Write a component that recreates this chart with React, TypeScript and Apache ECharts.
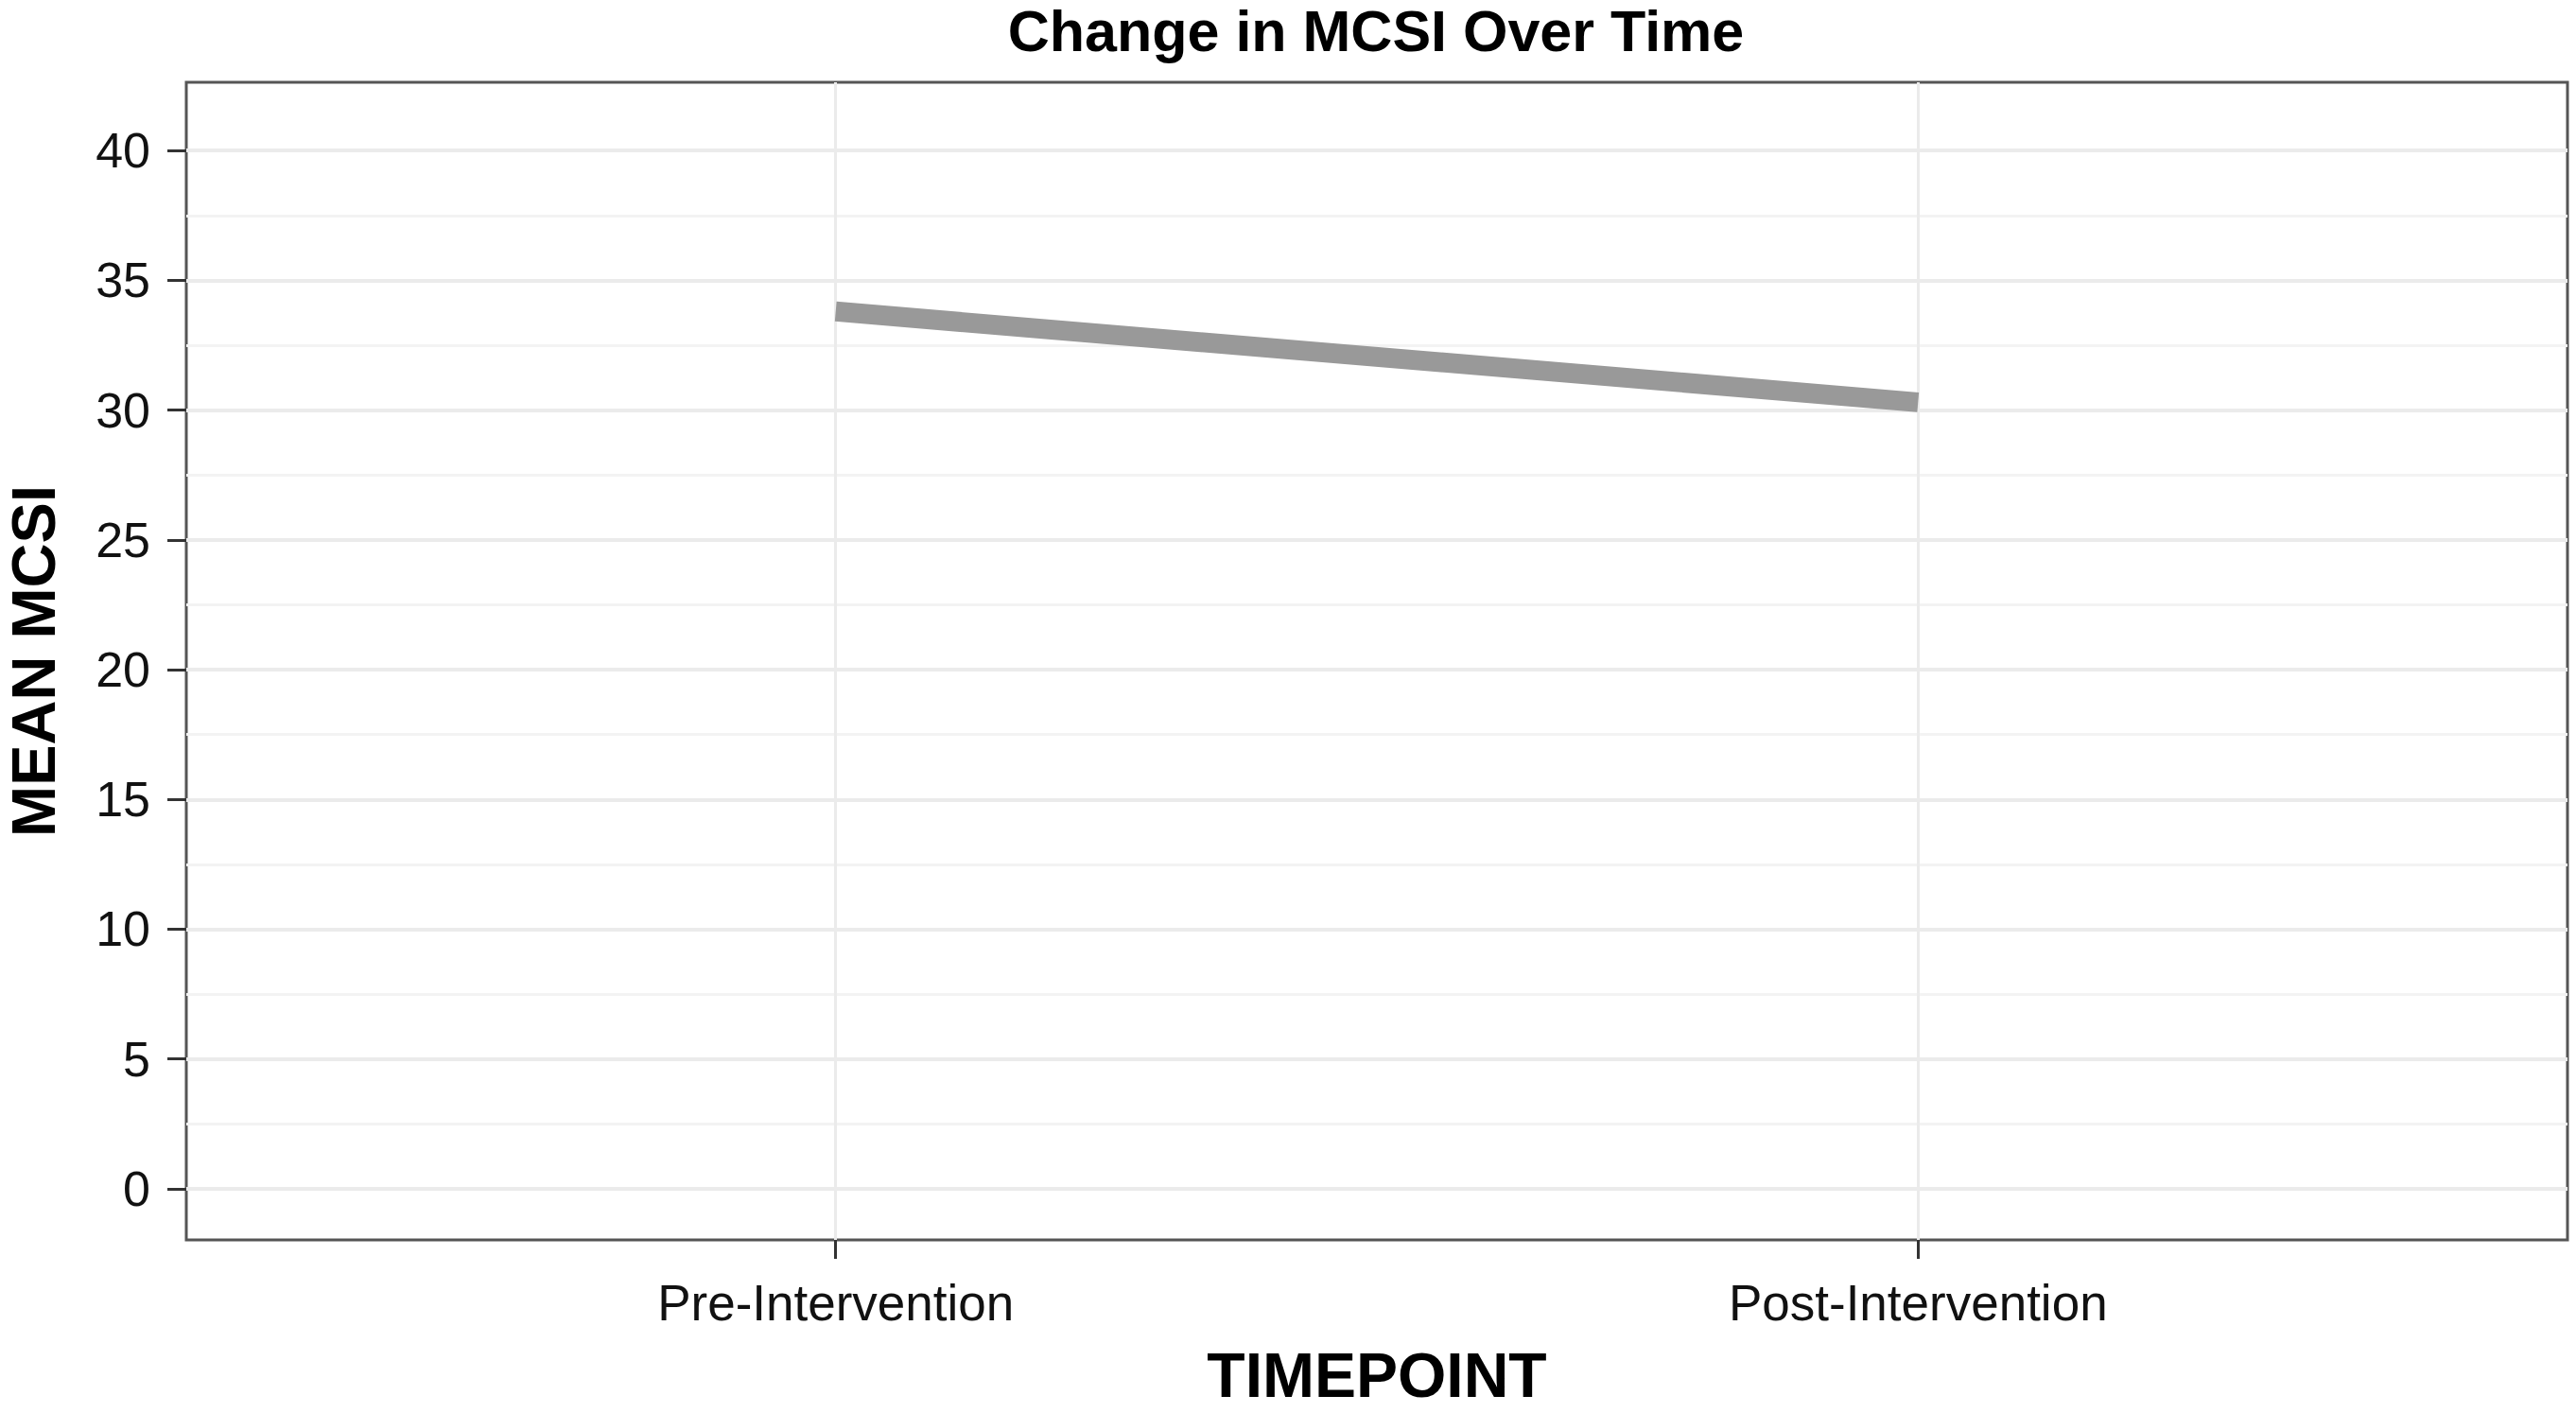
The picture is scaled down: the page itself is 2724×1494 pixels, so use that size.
import React, { useEffect, useRef } from "react";
import * as echarts from "echarts";

const categories = ["Pre-Intervention", "Post-Intervention"];
const categoryPositions = [1, 2];
const meanMcsi = [33.8, 30.3];
const yTicks = [0, 5, 10, 15, 20, 25, 30, 35, 40];
const yMinorLines = [2.5, 7.5, 12.5, 17.5, 22.5, 27.5, 32.5, 37.5];

const FONT = "'Liberation Sans', Arial, Helvetica, sans-serif";

export default function App() {
  const ref = useRef<HTMLDivElement>(null);
  useEffect(() => {
    if (!ref.current) return;
    const chart = echarts.init(ref.current, undefined, { renderer: "svg" });
    const seriesData = categoryPositions.map((x, i) => [x, meanMcsi[i]]);
    chart.setOption({
      animation: false,
      backgroundColor: "#ffffff",
      title: {
        text: "Change in MCSI Over Time",
        left: 1455,
        textAlign: "center",
        top: 2,
        padding: 0,
        textStyle: { fontFamily: FONT, fontWeight: "bold", fontSize: 61, color: "#000" },
      },
      grid: {
        left: 197,
        right: 9,
        top: 87,
        bottom: 183,
        show: true,
        borderColor: "#555555",
        borderWidth: 3,
        backgroundColor: "#ffffff",
        containLabel: false,
        outerBoundsMode: "none",
      },
      xAxis: {
        type: "value",
        min: 0.4,
        max: 2.6,
        name: "TIMEPOINT",
        nameLocation: "middle",
        nameGap: 110,
        nameTextStyle: { fontFamily: FONT, fontWeight: "bold", fontSize: 66, color: "#000" },
        axisLine: { show: false, onZero: false },
        axisTick: {
          show: true,
          customValues: categoryPositions,
          length: 20,
          lineStyle: { color: "#333", width: 3 },
        },
        axisLabel: {
          customValues: categoryPositions,
          margin: 40,
          fontFamily: FONT,
          fontSize: 53,
          color: "#111",
          formatter: (v: number) => {
            const idx = categoryPositions.indexOf(Math.round(v));
            return idx >= 0 ? categories[idx] : "";
          },
        },
        splitLine: { show: true, lineStyle: { color: "#ebebeb", width: 3 } },
      },
      yAxis: [
        {
          type: "value",
          min: -1.97,
          max: 42.63,
          name: "MEAN MCSI",
          nameLocation: "middle",
          nameGap: 129,
          nameRotate: 90,
          nameTextStyle: { fontFamily: FONT, fontWeight: "bold", fontSize: 65, color: "#000" },
          axisLine: { show: false, onZero: false },
          axisTick: {
            show: true,
            customValues: yTicks,
            length: 20,
            lineStyle: { color: "#333", width: 3 },
          },
          axisLabel: {
            customValues: yTicks,
            margin: 38,
            fontFamily: FONT,
            fontSize: 52,
            color: "#111",
          },
          splitLine: { show: true, lineStyle: { color: "#ebebeb", width: 4 } },
        },
        {
          type: "value",
          min: -1.97,
          max: 42.63,
          position: "left",
          axisLine: { show: false, onZero: false },
          axisTick: { show: false, customValues: yMinorLines },
          axisLabel: { show: false, customValues: yMinorLines },
          splitLine: { show: true, lineStyle: { color: "#f3f3f3", width: 3 } },
        },
      ],
      series: [
        {
          type: "line",
          data: seriesData,
          yAxisIndex: 0,
          symbol: "none",
          lineStyle: { color: "#999999", width: 21, cap: "butt" },
          z: 5,
        },
      ],
    });
    return () => chart.dispose();
  }, []);
  return (
    <div
      ref={ref}
      style={{ position: "absolute", left: 0, top: 0, width: 2724, height: 1494 }}
    />
  );
}
